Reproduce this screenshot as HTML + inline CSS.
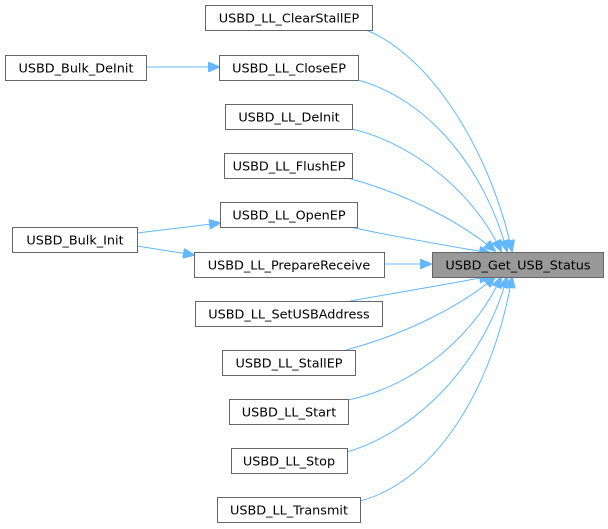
<!DOCTYPE html>
<html><head><meta charset="utf-8"><style>
html,body{margin:0;padding:0;background:#fff;width:608px;height:529px;overflow:hidden}
svg{display:block}
text{font-family:"DejaVu Sans","Liberation Sans",sans-serif;font-size:12.8px;fill:#000}
</style></head><body>
<svg width="608" height="529" viewBox="0 0 608 529">
<defs>
<marker id="a" markerWidth="12" markerHeight="10" refX="11" refY="5" orient="auto" markerUnits="userSpaceOnUse">
<path d="M0,0 L12,5 L0,10 Z" fill="#63b8ff" stroke="#63b8ff"/>
</marker>
</defs>
<g fill="none" stroke="#63b8ff" stroke-width="1">
<path d="M366,30 C430,55 490,150 512,251" marker-end="url(#a)"/>
<path d="M358,80 C430,100 485,170 507,251" marker-end="url(#a)"/>
<path d="M352,129 C420,145 478,200 501,251" marker-end="url(#a)"/>
<path d="M348,178 C410,195 465,225 495,251" marker-end="url(#a)"/>
<path d="M350,227 C400,238 450,246 490,253" marker-end="url(#a)"/>
<path d="M384,264 L431,264" marker-end="url(#a)"/>
<path d="M350,301 C400,292 450,284 490,276" marker-end="url(#a)"/>
<path d="M346,350 C410,333 465,303 495,277" marker-end="url(#a)"/>
<path d="M348,400 C420,385 478,330 501,277" marker-end="url(#a)"/>
<path d="M347,452 C420,430 485,360 507,277" marker-end="url(#a)"/>
<path d="M360,501 C440,480 495,380 512,277" marker-end="url(#a)"/>
<path d="M146,67 L219,67" marker-end="url(#a)"/>
<path d="M137,233 L220,223" marker-end="url(#a)"/>
<path d="M137,246 L194,255" marker-end="url(#a)"/>
</g>
<g stroke="#666" stroke-width="1" fill="#fff">
<rect x="205.5" y="5.5" width="167" height="25"/>
<rect x="219.5" y="55.5" width="139" height="25"/>
<rect x="225.5" y="104.5" width="127" height="25"/>
<rect x="224.5" y="153.5" width="128" height="25"/>
<rect x="220.5" y="202.5" width="137" height="25"/>
<rect x="194.5" y="252.5" width="190" height="25"/>
<rect x="195.5" y="301.5" width="187" height="25"/>
<rect x="222.5" y="350.5" width="133" height="25"/>
<rect x="229.5" y="399.5" width="119" height="25"/>
<rect x="231.5" y="448.5" width="116" height="25"/>
<rect x="217.5" y="497.5" width="143" height="25"/>
<rect x="5.5" y="55.5" width="141" height="25"/>
<rect x="12.5" y="227.5" width="125" height="25"/>
<rect x="432.5" y="252.5" width="171" height="25" fill="#999"/>
</g>
<g text-anchor="middle">
<text x="289" y="22.5">USBD_LL_ClearStallEP</text>
<text x="289" y="72.5">USBD_LL_CloseEP</text>
<text x="289" y="121.5">USBD_LL_DeInit</text>
<text x="289" y="170.5">USBD_LL_FlushEP</text>
<text x="289" y="219.5">USBD_LL_OpenEP</text>
<text x="289" y="269.5">USBD_LL_PrepareReceive</text>
<text x="289" y="318.5">USBD_LL_SetUSBAddress</text>
<text x="289" y="367.5">USBD_LL_StallEP</text>
<text x="289" y="416.5">USBD_LL_Start</text>
<text x="289" y="465.5">USBD_LL_Stop</text>
<text x="289" y="514.5">USBD_LL_Transmit</text>
<text x="76" y="72.5">USBD_Bulk_DeInit</text>
<text x="75" y="244.5">USBD_Bulk_Init</text>
<text x="518" y="269.5">USBD_Get_USB_Status</text>
</g>
</svg>
</body></html>
